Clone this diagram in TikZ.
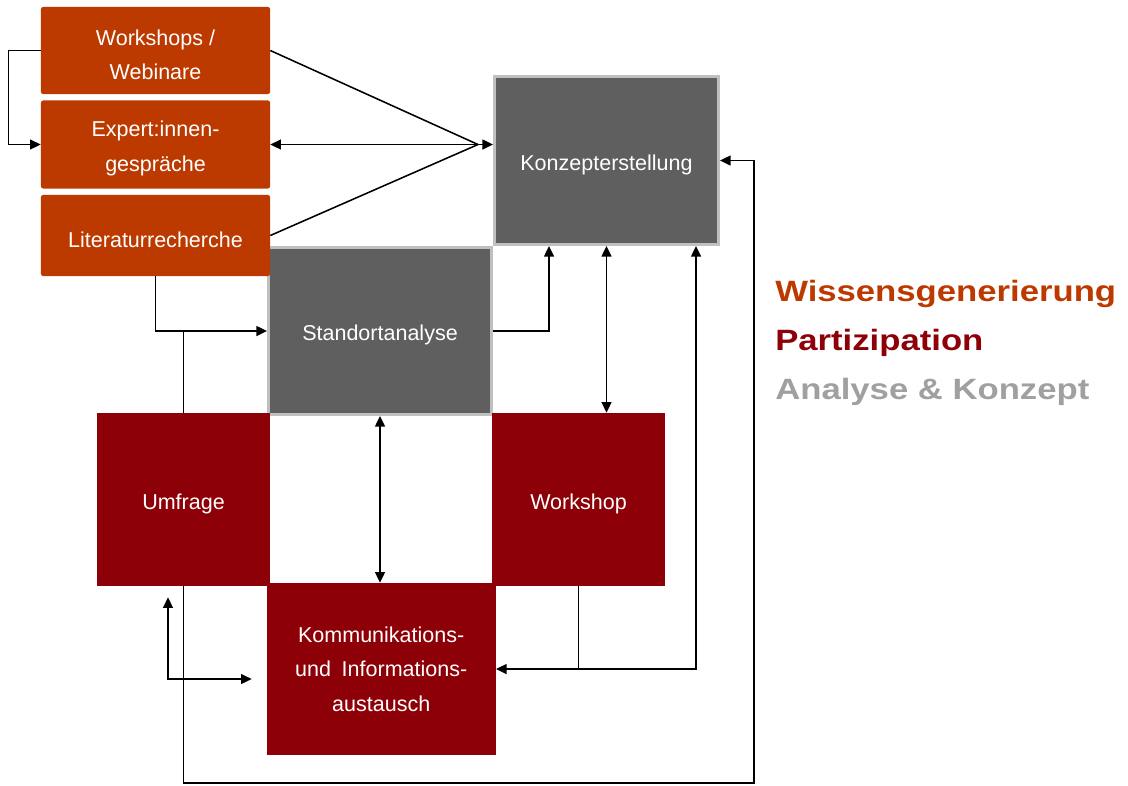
\documentclass[tikz,border=0pt]{standalone}
\usepackage{fontspec}
\setmainfont{Liberation Sans}
\usepackage{graphicx}
\usetikzlibrary{arrows.meta,positioning,calc}

\definecolor{wissen}{HTML}{BC3A00}
\definecolor{partizip}{HTML}{8E0008}
\definecolor{analyse}{HTML}{5F5F5F}
\definecolor{rahmen}{HTML}{C0C0C0}
\definecolor{legendgrau}{HTML}{A0A0A0}

\newcommand{\hoch}{\rule{0pt}{1.1em}}

\begin{document}
\begin{tikzpicture}[x=0.025cm,y=-0.025cm]
	\tikzstyle{box}=[inner sep=0pt,text=white,align=center,font=\fontsize{15.3}{24.5}\selectfont]
	\tikzstyle{wissenbox}=[box,fill=wissen,rounded corners=1.5pt,minimum width=5.725cm]
	\tikzstyle{partbox}=[box,fill=partizip,minimum width=4.325cm,minimum height=4.325cm]
	\tikzstyle{analysebox}=[box,fill=analyse,draw=rahmen,line width=2.1pt]
	\tikzstyle{legende}=[anchor=base west,inner sep=0pt,font=\fontsize{20.9}{25}\selectfont\bfseries]
	\tikzstyle{line}=[line width=1.1pt]
	\tikzstyle{link}=[line,-{Triangle[length=7.5pt,width=7pt]}]
	\tikzstyle{dlink}=[line,{Triangle[length=7.5pt,width=7pt]}-{Triangle[length=7.5pt,width=7pt]}]

	\useasboundingbox (0,0) rectangle (1128,785);

	% Analyse & Konzept
	\node[analysebox,minimum width=5.6cm,minimum height=4.2cm] (konzept) at (606.5,160.5) {\hoch Konzepterstellung};
	\node[analysebox,minimum width=5.575cm,minimum height=4.175cm] (standort) at (380,331) {\hoch Standortanalyse};

	% Wissensgenerierung
	\node[wissenbox,minimum height=2.175cm] (ws) at (155.5,50.5) {\hoch Workshops /\\Webinare};
	\node[wissenbox,minimum height=2.2cm] (expert) at (155.5,144.5) {\hoch Expert:innen-\\gespräche};
	\node[wissenbox,minimum height=2.025cm] (lit) at (155.5,235.5) {\hoch Literaturrecherche};

	% Partizipation
	\node[partbox] (umfrage) at (183.5,499.5) {\hoch Umfrage};
	\node[partbox] (workshop) at (578.5,499.5) {\hoch Workshop};
	\node[partbox,minimum width=5.725cm,minimum height=4.3cm] (komm) at (381.2,669) {Kommunikations-\\und\hspace{0.5em}Informations-\\austausch};

	% Legende
	\node[legende,text=wissen] (legwissen) at (775,301) {\scalebox{1.18}[1]{Wissensgenerierung}};
	\node[legende,text=partizip] (legpart) at (775,350) {\scalebox{1.18}[1]{Partizipation}};
	\node[legende,text=legendgrau] (leganalyse) at (775,399) {\scalebox{1.18}[1]{Analyse \& Konzept}};

	\coordinate (spitze) at ($(konzept.west |- expert.east)+(-15,0)$);
	\coordinate (ecke) at (754,783);

	\draw[link] (ws.west) -- ++(-32,0) |- (expert.west);
	\draw[line] (ws.east) -- (spitze);
	\draw[line] (lit.east) -- (spitze);
	\draw[dlink] (expert.east) -- (expert.east -| konzept.west);

	\draw[link] (lit.south) |- (standort.west);
	\draw[line] (umfrage.north) -- (umfrage.north |- standort.west);
	\draw[link] (standort.east) -| ($(konzept.south)+(-57.5,0)$);

	\draw[dlink] (konzept.south) -- (konzept.south |- workshop.north);
	\draw[dlink] (standort.south) -- (standort.south |- komm.north);

	\draw[line] (workshop.south) -- (workshop.south |- komm.east);
	\draw[dlink] (komm.east) -| ($(konzept.south)+(89.5,0)$);

	\draw[dlink] ($(umfrage.south)+(-15.5,11)$) |- ($(komm.west)+(-14.7,10)$);
	\draw[link] (umfrage.south) |- (ecke) |- (konzept.east);
\end{tikzpicture}
\end{document}
